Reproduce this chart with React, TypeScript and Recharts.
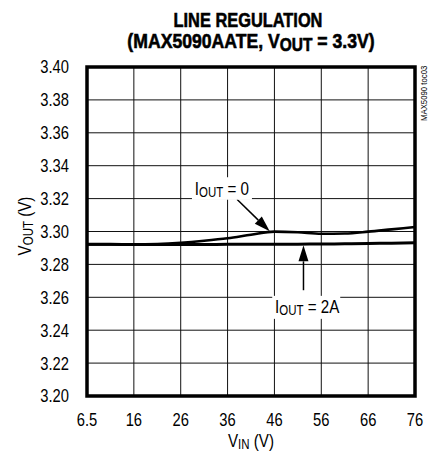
import {
  LineChart,
  Line,
  XAxis,
  YAxis,
  CartesianGrid,
  ReferenceArea,
  ReferenceLine,
  ReferenceDot,
} from "recharts";

// no narrow face installed, so Liberation Sans is squeezed horizontally
const FONT = '"Liberation Sans", Arial, sans-serif';
const NARROW = 0.82;

// x positions on the axis; the first gridline is labelled 6.5 but sits one
// full division left of 16, so the axis runs 6..76 in equal steps of 10
const VIN = [6, 11, 16, 21, 26, 31, 36, 41, 46, 51, 56, 61, 66, 71, 76];
const VOUT_NO_LOAD = [3.2922, 3.2922, 3.2921, 3.2924, 3.2932, 3.2944, 3.2959, 3.298, 3.2999, 3.2995, 3.2986, 3.2988, 3.2999, 3.3013, 3.3027];
const VOUT_2A = [3.2922, 3.2922, 3.2921, 3.2921, 3.2921, 3.2921, 3.2922, 3.2922, 3.2922, 3.2923, 3.2924, 3.2925, 3.2927, 3.2929, 3.2931];

const X_TICKS = [6, 16, 26, 36, 46, 56, 66, 76];
const X_TICK_LABELS = ["6.5", "16", "26", "36", "46", "56", "66", "76"];
const Y_TICKS = [3.2, 3.22, 3.24, 3.26, 3.28, 3.3, 3.32, 3.34, 3.36, 3.38, 3.4];

const data = VIN.map((vin, i) => ({ vin, noLoad: VOUT_NO_LOAD[i], load2A: VOUT_2A[i] }));

function XTick({ x, y, payload }: any) {
  return (
    <text
      transform={`translate(${x} ${y}) scale(${NARROW} 1)`}
      textAnchor="middle"
      dy="0.71em"
      fontFamily={FONT}
      fontSize={18}
      fill="#000"
    >
      {X_TICK_LABELS[X_TICKS.indexOf(payload.value)]}
    </text>
  );
}

function YTick({ x, y, payload }: any) {
  return (
    <text
      transform={`translate(${x} ${y}) scale(${NARROW} 1)`}
      textAnchor="end"
      dy="0.36em"
      fontFamily={FONT}
      fontSize={18}
      fill="#000"
    >
      {Number(payload.value).toFixed(2)}
    </text>
  );
}

function Arrow(props: any) {
  const { x1, y1, x2, y2 } = props;
  const dx = x2 - x1;
  const dy = y2 - y1;
  const len = Math.hypot(dx, dy) || 1;
  const ux = dx / len;
  const uy = dy / len;
  const head = 16;
  const half = 5;
  const bx = x2 - ux * head;
  const by = y2 - uy * head;
  return (
    <g>
      <line x1={x1} y1={y1} x2={bx} y2={by} stroke="#000" strokeWidth={1.5} />
      <polygon
        points={`${x2},${y2} ${bx - uy * half},${by + ux * half} ${bx + uy * half},${by - ux * half}`}
        fill="#000"
      />
    </g>
  );
}

// white box + "I_OUT = ..." text centred on the dot
function CurrentLabel({ cx, cy, value, box }: any) {
  const [l, r, t, b] = box;
  return (
    <g>
      <rect x={cx + l} y={cy + t} width={r - l} height={b - t} fill="#fff" />
      <text
        transform={`translate(${cx} ${cy + 7}) scale(${NARROW} 1)`}
        textAnchor="middle"
        fontFamily={FONT}
        fontSize={18.5}
        fill="#000"
      >
        I<tspan fontSize={14} dy={2}>OUT</tspan>
        <tspan dy={-2}> = {value}</tspan>
      </text>
    </g>
  );
}

export default function App() {
  return (
    <div style={{ position: "absolute", left: 0, top: 0, width: 435, height: 458, background: "#fff" }}>
      <LineChart width={435} height={458} data={data} margin={{ top: 67, right: 20, left: 0, bottom: 0 }}>
        <CartesianGrid stroke="#111" strokeWidth={1} />
        <XAxis
          type="number"
          dataKey="vin"
          domain={[6, 76]}
          ticks={X_TICKS}
          interval={0}
          axisLine={false}
          tickLine={false}
          tickMargin={11}
          height={62}
          tick={<XTick />}
        />
        <YAxis
          type="number"
          domain={[3.2, 3.4]}
          ticks={Y_TICKS}
          interval={0}
          axisLine={false}
          tickLine={false}
          tickMargin={12}
          width={87}
          tick={<YTick />}
        />
        <Line type="monotone" dataKey="noLoad" stroke="#000" strokeWidth={2.6} dot={false} isAnimationActive={false} />
        <Line type="monotone" dataKey="load2A" stroke="#000" strokeWidth={3} dot={false} isAnimationActive={false} />
        <ReferenceArea x1={6} x2={76} y1={3.2} y2={3.4} fill="none" stroke="#000" strokeWidth={3.5} fillOpacity={0} />
        <ReferenceDot
          x={34.8}
          y={3.3263}
          r={0}
          shape={(p: any) => <CurrentLabel cx={p.cx} cy={p.cy} value="0" box={[-30, 30, -11, 11.5]} />}
        />
        <ReferenceDot
          x={53}
          y={3.2548}
          r={0}
          shape={(p: any) => <CurrentLabel cx={p.cx} cy={p.cy} value="2A" box={[-35, 33, -10, 13]} />}
        />
        <ReferenceLine segment={[{ x: 38, y: 3.3196 }, { x: 45, y: 3.3001 }]} shape={Arrow} />
        <ReferenceLine segment={[{ x: 52.2, y: 3.2643 }, { x: 52.2, y: 3.2916 }]} shape={Arrow} />
      </LineChart>

      <svg width={435} height={458} style={{ position: "absolute", left: 0, top: 0, pointerEvents: "none" }}>
        <text
          transform="translate(248 26.5) scale(0.78 1)"
          textAnchor="middle"
          fontFamily={FONT}
          fontWeight="bold"
          fontSize={21}
          fill="#000"
          stroke="#000"
          strokeWidth={0.6}
        >
          LINE REGULATION
        </text>
        <text
          transform="translate(251 47.5) scale(0.86 1)"
          textAnchor="middle"
          fontFamily={FONT}
          fontWeight="bold"
          fontSize={20.5}
          fill="#000"
          stroke="#000"
          strokeWidth={0.6}
        >
          (MAX5090AATE, V<tspan fontSize={18} dy={3}>OUT</tspan>
          <tspan dy={-3}> = 3.3V)</tspan>
        </text>
        <text
          transform={`translate(251 447) scale(${NARROW} 1)`}
          textAnchor="middle"
          fontFamily={FONT}
          fontSize={18.5}
          fill="#000"
        >
          V<tspan fontSize={14} dy={1.5}>IN</tspan>
          <tspan dy={-1.5}> (V)</tspan>
        </text>
        <text
          transform={`translate(31 226) rotate(-90) scale(${NARROW} 1)`}
          textAnchor="middle"
          fontFamily={FONT}
          fontSize={18.5}
          fill="#000"
        >
          V<tspan fontSize={14} dy={1.5}>OUT</tspan>
          <tspan dy={-1.5}> (V)</tspan>
        </text>
        <text
          transform={`translate(427 121) rotate(-90) scale(${NARROW} 1)`}
          fontFamily={FONT}
          fontSize={9.5}
          fill="#000"
        >
          MAX5090 toc03
        </text>
      </svg>
    </div>
  );
}
